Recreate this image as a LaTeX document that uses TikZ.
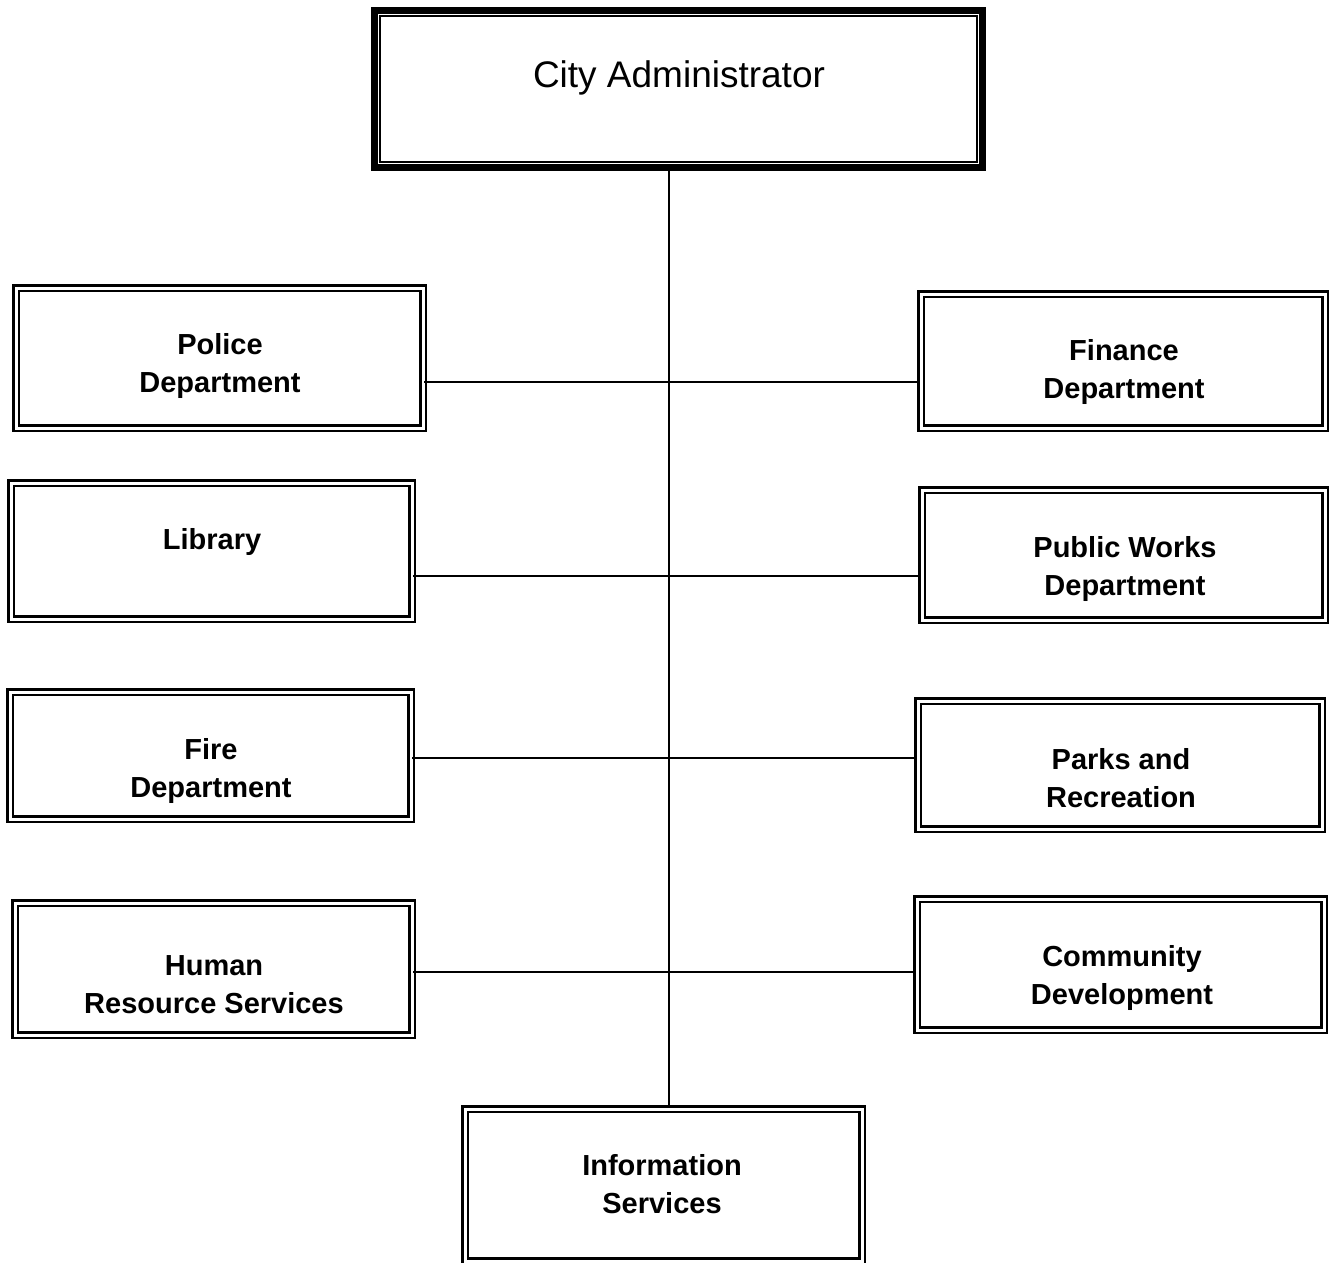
\documentclass[tikz,border=0pt]{standalone}
\usepackage{fontspec}
\setmainfont{Liberation Sans}
\begin{document}
\begin{tikzpicture}[x=1pt, y=-1pt,
  deptbox/.style={draw=black, line width=2.4pt, double=white, double distance=3pt,
    inner sep=0pt, fill=white},
  topbox/.style={draw=black, line width=7pt, inner sep=0pt, fill=white},
  innerline/.style={draw=black, line width=2pt},
  depttext/.style={font=\fontsize{29}{38}\selectfont\bfseries, align=center, inner sep=0pt},
  toptext/.style={font=\fontsize{37}{44}\selectfont, inner sep=0pt},
  link/.style={draw=black, line width=1.5pt}]

\useasboundingbox (0,0) rectangle (1330,1262);
\fill[white] (0,0) rectangle (1330,1262);

% trunk and branch positions
\coordinate (trunk) at (669,600);
\coordinate (r1) at (669,382);
\coordinate (r2) at (669,576);
\coordinate (r3) at (669,758);
\coordinate (r4) at (669,972);

% head box with heavy outer frame and thin inner frame
\node[topbox, minimum width=608pt, minimum height=157pt] (ca) at (678.5,89) {};
\draw[innerline] ([shift={(9,9)}]ca.north west) rectangle ([shift={(-9,-9)}]ca.south east);
\node[toptext] (ca-t) at (679,78) {City Administrator};

% departments
\node[deptbox, minimum width=407pt, minimum height=140pt] (police) at (219.5,358) {};
\node[depttext] (police-t) at (220,366) {Police\\Department};

\node[deptbox, minimum width=404pt, minimum height=134pt] (finance) at (1123,361) {};
\node[depttext] (finance-t) at (1124,372) {Finance\\Department};

\node[deptbox, minimum width=401pt, minimum height=136pt] (library) at (211.5,551) {};
\node[depttext] (library-t) at (212,542) {Library};

\node[deptbox, minimum width=403pt, minimum height=130pt] (works) at (1123.5,555) {};
\node[depttext] (works-t) at (1125,569) {Public Works\\Department};

\node[deptbox, minimum width=401pt, minimum height=127pt] (fire) at (210.5,755.5) {};
\node[depttext] (fire-t) at (211,771) {Fire\\Department};

\node[deptbox, minimum width=404pt, minimum height=128pt] (parks) at (1120,765) {};
\node[depttext] (parks-t) at (1121,778) {Parks and\\Recreation};

\node[deptbox, minimum width=397pt, minimum height=132pt] (hr) at (213.5,969) {};
\node[depttext] (hr-t) at (214,985) {Human\\Resource Services};

\node[deptbox, minimum width=407pt, minimum height=131pt] (community) at (1120.5,964.5) {};
\node[depttext] (community-t) at (1122,978) {Community\\Development};

\node[deptbox, minimum width=397pt, minimum height=152pt] (info) at (663.5,1185) {};
\node[depttext] (info-t) at (662,1184) {Information\\Services};

% connectors
\draw[link] (trunk |- ca.south) -- (trunk |- info.north);
\draw[link] (r1 -| police.east) -- (r1 -| finance.west);
\draw[link] (r2 -| library.east) -- (r2 -| works.west);
\draw[link] (r3 -| fire.east) -- (r3 -| parks.west);
\draw[link] (r4 -| hr.east) -- (r4 -| community.west);
\end{tikzpicture}
\end{document}
